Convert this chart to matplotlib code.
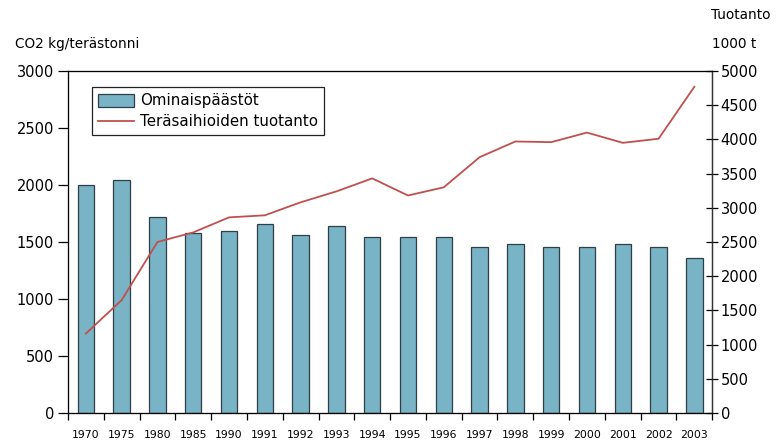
import numpy as np
import matplotlib.pyplot as plt

# ---- data
years = ["1970", "1975", "1980", "1985", "1990", "1991", "1992", "1993", "1994",
         "1995", "1996", "1997", "1998", "1999", "2000", "2001", "2002", "2003"]
emissions = [2000, 2045, 1720, 1580, 1600, 1660, 1560, 1640, 1545,
             1540, 1540, 1460, 1480, 1460, 1460, 1480, 1460, 1360]
production = [1160, 1650, 2500, 2640, 2860, 2890, 3080, 3240, 3430,
              3180, 3300, 3740, 3970, 3960, 4100, 3950, 4010, 4770]

BAR_COLOR = "#78b3c6"
LINE_COLOR = "#c0504d"
plt.rcParams["font.family"] = "DejaVu Sans"

fig = plt.figure(figsize=(7.81, 4.44), dpi=100)
ax = fig.add_axes([0.087, 0.070, 0.825, 0.770])
x = np.arange(len(years))

bars = ax.bar(x, emissions, width=0.46, color=BAR_COLOR, edgecolor="#2f3f45",
              linewidth=0.9, label="Ominaispäästöt", zorder=2)
ax.set_xlim(-0.5, len(years) - 0.5)
ax.set_ylim(0, 3000)
ax.set_yticks(range(0, 3001, 500))
ax.set_xticks(x)
ax.set_xticklabels(years, fontsize=7.8)
ax.set_xticks(np.arange(-0.5, len(years)), minor=True)
ax.tick_params(axis="x", which="major", length=0, pad=12)
ax.tick_params(axis="x", which="minor", length=5, direction="out", width=0.9)
ax.tick_params(axis="y", length=7, direction="out", width=0.9, labelsize=10.5, pad=3)

for side in ["top", "right", "left", "bottom"]:
    ax.spines[side].set_linewidth(0.9)
    ax.spines[side].set_color("#333333")

ax2 = ax.twinx()
line, = ax2.plot(x, production, color=LINE_COLOR, lw=1.3,
                 label="Teräsaihioiden tuotanto", zorder=3)
ax2.set_ylim(0, 5000)
ax2.set_yticks(range(0, 5001, 500))
ax2.tick_params(axis="y", length=8, direction="inout", width=0.9, labelsize=10.5, pad=2)
ax2.spines["right"].set_linewidth(0.9)
ax2.spines["right"].set_color("#333333")

leg = ax.legend([bars, line], ["Ominaispäästöt", "Teräsaihioiden tuotanto"],
                loc="upper left", bbox_to_anchor=(0.038, 0.952), fancybox=False,
                framealpha=1, edgecolor="#222222", fontsize=10.8,
                borderpad=0.4, handlelength=2.4, handleheight=0.9,
                labelspacing=0.4, handletextpad=0.4, borderaxespad=0)
leg.get_frame().set_linewidth(0.9)

fig.text(0.019, 0.893, "CO2 kg/terästonni", fontsize=9.8)
fig.text(0.910, 0.958, "Tuotanto", fontsize=9.8)
fig.text(0.912, 0.893, "1000 t", fontsize=9.8)

fig.savefig("out.png", dpi=100)
